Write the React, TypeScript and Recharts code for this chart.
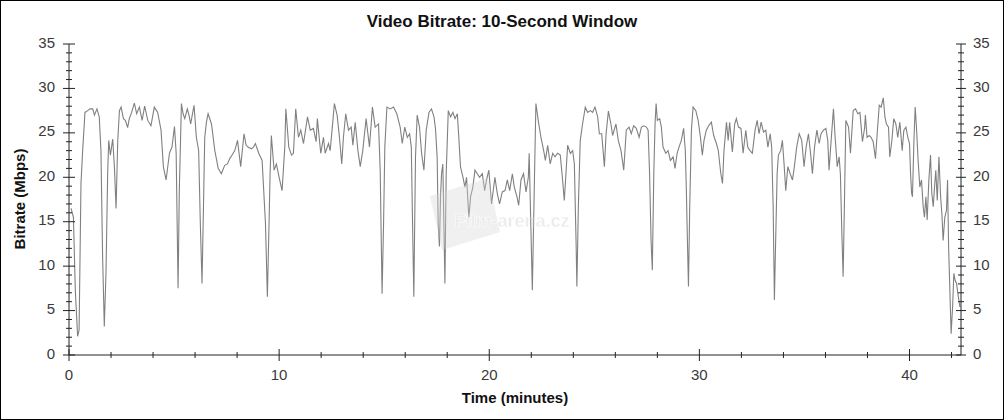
import React from 'react';
import { LineChart, Line, XAxis, YAxis } from 'recharts';

const minutes = [
  0.1, 0.21, 0.3, 0.41, 0.48, 0.57, 0.65, 0.76, 0.89, 1.0, 1.13, 1.21, 1.33, 1.44, 1.52, 1.6, 1.68, 1.76, 1.84, 1.89,
  1.97, 2.08, 2.16, 2.24, 2.32, 2.4, 2.48, 2.59, 2.68, 2.79, 2.87, 2.98, 3.11, 3.22, 3.35, 3.48, 3.6, 3.75, 3.9, 4.06,
  4.22, 4.38, 4.49, 4.62, 4.78, 4.9, 5.02, 5.1, 5.19, 5.25, 5.35, 5.43, 5.51, 5.63, 5.71, 5.79, 5.95, 6.06, 6.17, 6.25,
  6.33, 6.4, 6.46, 6.54, 6.62, 6.78, 6.94, 7.1, 7.25, 7.41, 7.54, 7.65, 7.76, 7.89, 8.02, 8.17, 8.33, 8.43, 8.52, 8.68,
  8.78, 8.87, 9.03, 9.19, 9.35, 9.44, 9.52, 9.57, 9.63, 9.76, 9.87, 10.0, 10.14, 10.27, 10.32, 10.46, 10.59, 10.68, 10.79, 10.92,
  11.03, 11.16, 11.35, 11.48, 11.63, 11.76, 11.82, 11.98, 12.11, 12.19, 12.35, 12.43, 12.56, 12.63, 12.76, 12.87, 12.98, 13.06, 13.17, 13.3,
  13.43, 13.51, 13.62, 13.75, 13.86, 13.98, 14.14, 14.3, 14.44, 14.57, 14.73, 14.81, 14.86, 14.9, 14.97, 15.03, 15.13, 15.29, 15.44, 15.6,
  15.76, 15.86, 15.98, 16.1, 16.21, 16.29, 16.35, 16.41, 16.49, 16.57, 16.68, 16.78, 16.89, 17.0, 17.13, 17.25, 17.37, 17.44, 17.52, 17.57,
  17.63, 17.68, 17.73, 17.79, 17.84, 17.89, 17.95, 18.05, 18.16, 18.27, 18.37, 18.48, 18.56, 18.63, 18.75, 18.84, 18.92, 19.03, 19.11, 19.22,
  19.32, 19.43, 19.54, 19.67, 19.78, 19.87, 19.98, 20.11, 20.27, 20.38, 20.49, 20.62, 20.75, 20.86, 20.97, 21.1, 21.19, 21.32, 21.4, 21.51,
  21.63, 21.75, 21.86, 21.9, 21.98, 22.05, 22.14, 22.22, 22.33, 22.46, 22.59, 22.67, 22.78, 22.9, 23.02, 23.13, 23.25, 23.38, 23.49, 23.57,
  23.65, 23.73, 23.86, 23.97, 24.05, 24.13, 24.17, 24.24, 24.33, 24.44, 24.57, 24.68, 24.81, 24.92, 25.03, 25.16, 25.24, 25.35, 25.48, 25.56,
  25.67, 25.79, 25.87, 26.03, 26.14, 26.27, 26.4, 26.52, 26.65, 26.76, 26.87, 27.0, 27.13, 27.24, 27.35, 27.48, 27.56, 27.63, 27.7, 27.76,
  27.83, 27.89, 27.94, 28.0, 28.11, 28.19, 28.27, 28.4, 28.51, 28.62, 28.75, 28.84, 28.94, 29.03, 29.14, 29.25, 29.33, 29.38, 29.43, 29.48,
  29.54, 29.62, 29.7, 29.83, 29.94, 30.05, 30.14, 30.22, 30.33, 30.44, 30.57, 30.68, 30.81, 30.9, 31.02, 31.1, 31.17, 31.29, 31.37, 31.44,
  31.57, 31.68, 31.76, 31.86, 31.98, 32.08, 32.21, 32.3, 32.41, 32.52, 32.65, 32.75, 32.84, 32.94, 33.05, 33.16, 33.26, 33.37, 33.44, 33.51,
  33.57, 33.63, 33.7, 33.76, 33.87, 33.95, 34.03, 34.11, 34.21, 34.32, 34.43, 34.52, 34.63, 34.75, 34.87, 34.98, 35.08, 35.19, 35.29, 35.38,
  35.48, 35.59, 35.7, 35.79, 35.9, 36.02, 36.11, 36.17, 36.27, 36.38, 36.46, 36.56, 36.65, 36.71, 36.78, 36.84, 36.9, 36.97, 37.1, 37.19,
  37.32, 37.43, 37.54, 37.64, 37.7, 37.76, 37.86, 37.9, 37.98, 38.08, 38.17, 38.27, 38.38, 38.46, 38.56, 38.65, 38.75, 38.83, 38.9, 39.0,
  39.06, 39.16, 39.25, 39.35, 39.44, 39.54, 39.65, 39.73, 39.83, 39.92, 40.0, 40.05, 40.1, 40.14, 40.21, 40.27, 40.33, 40.41, 40.49, 40.57,
  40.65, 40.71, 40.78, 40.84, 40.92, 41.0, 41.06, 41.13, 41.19, 41.25, 41.32, 41.4, 41.48, 41.54, 41.6, 41.68, 41.76, 41.81, 41.86, 41.92,
  41.98, 42.05, 42.11, 42.17, 42.24, 42.3, 42.4,
];

const bitrate = [
  16.5, 15.5, 7.3, 2.1, 2.8, 19.3, 23.0, 27.3, 27.5, 27.7, 27.7, 27.0, 27.7, 26.8, 23.0, 11.0, 3.2, 9.2, 20.4, 24.15,
  22.5, 24.3, 21.2, 16.5, 24.15, 27.5, 27.9, 26.6, 26.4, 25.6, 26.6, 27.3, 28.35, 27.15, 27.9, 26.4, 28.0, 26.4, 25.8, 27.9,
  27.3, 25.3, 21.2, 19.7, 22.7, 23.4, 25.7, 22.7, 7.5, 18.5, 28.3, 27.15, 26.6, 27.7, 27.0, 26.0, 28.1, 24.5, 23.0, 14.8,
  8.05, 16.7, 24.5, 26.2, 27.15, 26.0, 23.0, 21.0, 20.4, 21.35, 21.5, 22.1, 22.5, 23.0, 24.15, 21.2, 24.9, 23.6, 23.4, 23.2,
  23.4, 23.8, 22.7, 21.9, 14.8, 6.55, 14.8, 20.4, 24.7, 20.8, 21.5, 20.0, 18.5, 23.4, 27.7, 23.4, 22.5, 22.7, 27.7, 24.5,
  25.3, 23.8, 26.8, 25.3, 25.5, 24.0, 26.6, 22.7, 24.5, 22.7, 23.8, 23.0, 26.4, 28.3, 27.0, 24.5, 21.5, 24.5, 27.15, 25.3,
  25.65, 23.6, 26.2, 23.0, 21.2, 23.0, 26.6, 23.4, 27.9, 25.65, 26.0, 20.8, 12.9, 6.9, 14.8, 23.4, 27.9, 27.7, 27.9, 27.15,
  25.65, 23.8, 25.65, 24.5, 24.9, 23.4, 14.8, 6.55, 22.3, 27.0, 25.65, 22.7, 20.8, 25.3, 27.3, 27.7, 26.8, 25.5, 22.3, 14.8,
  12.2, 17.8, 20.4, 21.5, 14.8, 8.05, 20.4, 27.5, 26.8, 27.3, 26.6, 27.15, 24.15, 21.2, 20.0, 18.9, 20.0, 15.5, 17.8, 18.9,
  20.8, 20.4, 20.0, 20.4, 18.5, 19.7, 20.8, 17.0, 20.0, 18.2, 17.0, 18.35, 18.5, 19.7, 18.5, 20.4, 18.9, 17.8, 16.85, 19.7,
  20.4, 18.35, 20.0, 22.7, 14.4, 7.3, 18.5, 28.3, 26.4, 24.5, 23.0, 21.9, 23.6, 21.5, 22.7, 22.3, 22.7, 22.5, 19.7, 17.4,
  20.4, 23.6, 22.7, 23.0, 21.5, 12.9, 7.7, 16.7, 24.15, 26.0, 27.9, 27.3, 27.5, 27.3, 27.9, 26.8, 24.9, 24.9, 21.2, 24.9,
  27.45, 26.0, 24.7, 26.0, 24.15, 23.0, 20.8, 25.3, 25.65, 24.9, 25.8, 25.5, 24.5, 25.65, 25.8, 25.65, 25.3, 20.4, 12.9, 9.55,
  20.4, 26.0, 28.3, 26.4, 26.6, 25.65, 23.4, 22.7, 23.0, 21.9, 22.3, 21.0, 22.7, 23.4, 24.15, 25.5, 23.0, 18.5, 12.9, 7.7,
  16.7, 25.3, 27.9, 27.5, 26.4, 24.5, 22.5, 24.15, 25.3, 25.8, 26.2, 24.7, 23.8, 23.0, 20.4, 19.3, 23.0, 26.2, 24.15, 26.2,
  22.85, 26.0, 26.6, 25.65, 25.5, 22.7, 25.3, 23.4, 23.0, 22.7, 25.3, 26.4, 24.9, 26.2, 25.1, 25.3, 23.4, 24.9, 23.4, 16.7,
  6.2, 12.9, 20.4, 22.5, 23.0, 24.15, 21.5, 18.5, 21.2, 20.4, 19.7, 21.2, 23.4, 24.9, 24.15, 21.2, 23.4, 24.9, 22.7, 20.4,
  23.4, 25.3, 23.8, 24.9, 25.3, 25.5, 24.15, 20.8, 24.15, 27.7, 24.5, 21.2, 22.3, 20.4, 13.7, 8.8, 16.7, 26.4, 25.65, 22.7,
  27.5, 27.7, 27.15, 27.3, 25.65, 24.0, 25.5, 27.0, 24.5, 24.7, 24.5, 24.0, 22.1, 24.9, 28.1, 27.9, 28.95, 26.8, 26.0, 25.65,
  22.3, 24.15, 26.6, 26.0, 24.5, 26.2, 23.0, 25.3, 25.65, 24.5, 23.8, 20.4, 18.2, 17.8, 24.15, 27.9, 25.65, 21.9, 18.9, 19.7,
  16.7, 15.5, 17.8, 15.2, 19.7, 22.5, 18.2, 16.7, 18.9, 20.8, 17.4, 22.3, 17.8, 15.9, 12.9, 15.5, 16.3, 19.7, 12.2, 7.3,
  2.4, 5.4, 9.2, 8.4, 8.05, 6.9, 5.4,
];

const xTicks = [0, 2, 4, 6, 8, 10, 12, 14, 16, 18, 20, 22, 24, 26, 28, 30, 32, 34, 36, 38, 40, 42];
const yTicks = [0, 1, 2, 3, 4, 5, 6, 7, 8, 9, 10, 11, 12, 13, 14, 15, 16, 17, 18, 19, 20, 21, 22, 23, 24, 25, 26, 27, 28, 29, 30, 31, 32, 33, 34, 35];
const xLabelEvery = 10;
const yLabelEvery = 5;

const chartTitle = 'Video Bitrate: 10-Second Window';
const xTitle = 'Time (minutes)';
const yTitle = 'Bitrate (Mbps)';
const watermark = 'Film-arena.cz';

const data = minutes.map((m, i) => ({ t: m, v: bitrate[i] }));

const FONT = '"Liberation Sans", Arial, sans-serif';
const AXIS = '#222';

const BottomTick = (p: any) => {
  const { x, y, payload } = p;
  const major = payload.value % xLabelEvery === 0;
  return (
    <g>
      <line x1={x} x2={x} y1={major ? y - 6 : y - 3} y2={major ? y + 6 : y + 3} stroke={AXIS} />
      {major && (
        <text x={x} y={y + 25} textAnchor="middle" fontFamily={FONT} fontSize={15} fill="#3a3a3a">
          {payload.value}
        </text>
      )}
    </g>
  );
};

const TopTick = (p: any) => {
  const { x, y, payload } = p;
  const major = payload.value % xLabelEvery === 0;
  return <line x1={x} x2={x} y1={major ? y - 3 : y - 1} y2={major ? y + 5 : y + 3} stroke={AXIS} />;
};

const LeftTick = (p: any) => {
  const { x, y, payload } = p;
  const major = payload.value % yLabelEvery === 0;
  return (
    <g>
      <line x1={major ? x - 6 : x - 3} x2={major ? x + 6 : x + 3} y1={y} y2={y} stroke={AXIS} />
      {major && (
        <text x={x - 14} y={y + 3.5} textAnchor="end" fontFamily={FONT} fontSize={15} fill="#3a3a3a">
          {payload.value}
        </text>
      )}
    </g>
  );
};

const RightTick = (p: any) => {
  const { x, y, payload } = p;
  const major = payload.value % yLabelEvery === 0;
  return (
    <g>
      <line x1={major ? x - 5 : x - 3} x2={major ? x + 5 : x + 3} y1={y} y2={y} stroke={AXIS} />
      {major && (
        <text x={x + 12} y={y + 3.5} textAnchor="start" fontFamily={FONT} fontSize={15} fill="#3a3a3a">
          {payload.value}
        </text>
      )}
    </g>
  );
};

export default function App() {
  return (
    <div style={{ position: 'absolute', left: 0, top: 0, width: 1004, height: 420, background: '#fff' }}>
      <LineChart width={1004} height={420} data={data} margin={{ top: 44, right: 0, bottom: 15, left: 0 }}>
        <XAxis
          xAxisId="bottom"
          dataKey="t"
          type="number"
          domain={[0, 42.45]}
          allowDataOverflow
          ticks={xTicks}
          interval={0}
          height={50}
          tickSize={0}
          tickMargin={0}
          tickLine={false}
          axisLine={{ stroke: AXIS }}
          tick={<BottomTick />}
        />
        <XAxis
          xAxisId="top"
          orientation="top"
          dataKey="t"
          type="number"
          domain={[0, 42.45]}
          allowDataOverflow
          ticks={xTicks}
          interval={0}
          height={0}
          tickSize={0}
          tickMargin={0}
          tickLine={false}
          axisLine={{ stroke: AXIS }}
          tick={<TopTick />}
        />
        <YAxis
          yAxisId="left"
          type="number"
          domain={[0, 35]}
          allowDataOverflow
          ticks={yTicks}
          interval={0}
          width={69}
          tickSize={0}
          tickMargin={0}
          tickLine={false}
          axisLine={{ stroke: AXIS }}
          tick={<LeftTick />}
        />
        <YAxis
          yAxisId="right"
          orientation="right"
          type="number"
          domain={[0, 35]}
          allowDataOverflow
          ticks={yTicks}
          interval={0}
          width={43}
          tickSize={0}
          tickMargin={0}
          tickLine={false}
          axisLine={{ stroke: AXIS }}
          tick={<RightTick />}
        />
        <Line
          xAxisId="bottom"
          yAxisId="left"
          type="linear"
          dataKey="v"
          stroke="#808080"
          strokeWidth={1.1}
          dot={false}
          activeDot={false}
          isAnimationActive={false}
        />
      </LineChart>
      <svg
        width={1004}
        height={420}
        style={{ position: 'absolute', left: 0, top: 0, pointerEvents: 'none' }}
      >
        <g opacity={0.35}>
          <polygon points="430,196 488,178 500,232 442,250" fill="#d6d6d6" />
          <text x={512} y={227} textAnchor="middle" fontFamily={FONT} fontSize={18} fontWeight="bold" fill="#c0c0c0" stroke="#ffffff" strokeWidth={0.6}>
            {watermark}
          </text>
        </g>
        <text x={502} y={27} textAnchor="middle" fontFamily={FONT} fontSize={17} fontWeight="bold" fill="#111">
          {chartTitle}
        </text>
        <text x={515} y={403} textAnchor="middle" fontFamily={FONT} fontSize={15} fontWeight="bold" fill="#111">
          {xTitle}
        </text>
        <text transform="translate(25,199) rotate(-90)" textAnchor="middle" fontFamily={FONT} fontSize={15} fontWeight="bold" fill="#111">
          {yTitle}
        </text>
        <rect x={0.5} y={0.5} width={1003} height={419} fill="none" stroke="#000" />
      </svg>
    </div>
  );
}
